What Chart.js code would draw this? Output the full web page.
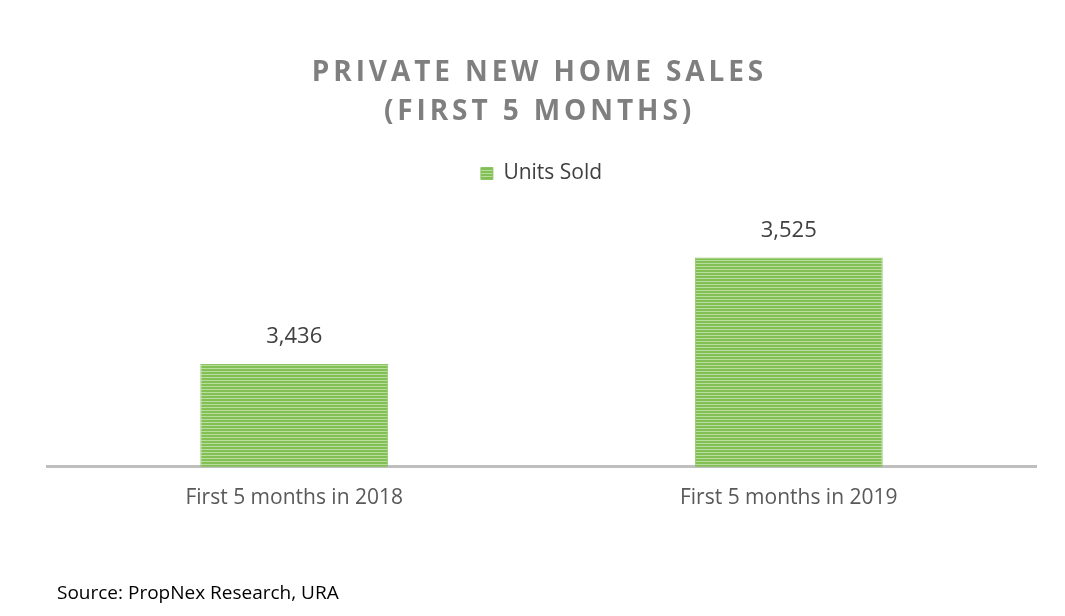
<!DOCTYPE html>
<html>
<head>
<meta charset="utf-8">
<script src="https://cdn.jsdelivr.net/npm/chart.js@4.4.1/dist/chart.umd.min.js"></script>
<style>
  html, body { margin: 0; padding: 0; background: #fff; }
  #wrap { position: relative; width: 1065px; height: 616px; overflow: hidden; }
  #salesChart { position: absolute; left: 0; top: 0; }
  .title {
    position: absolute; left: 0; top: 51px; width: 1065px; padding-left: 14px; box-sizing: border-box;
    text-align: center; font-family: "Open Sans", sans-serif; font-weight: 700;
    font-size: 28px; line-height: 39px; letter-spacing: 3.9px; color: #7f7f7f;
  }
  .source {
    position: absolute; left: 57px; top: 579px;
    font-family: "Open Sans", sans-serif; font-size: 19px; line-height: 26px; color: #000;
  }
</style>
</head>
<body>
<div id="wrap">
  <canvas id="salesChart" width="1065" height="616"></canvas>
  <div class="title">PRIVATE NEW HOME SALES<br>(FIRST 5 MONTHS)</div>
  <div class="source">Source: PropNex Research, URA</div>
</div>
<script>
const categories = ["First 5 months in 2018", "First 5 months in 2019"];
const unitsSold = [3436, 3525];
const seriesName = "Units Sold";

// striped green fill like the Excel pattern
function stripes() {
  const c = document.createElement("canvas");
  c.width = 4;
  c.height = 3;
  const g = c.getContext("2d");
  g.fillStyle = "#b9dd9c";
  g.fillRect(0, 0, 4, 3);
  g.fillStyle = "#82c055";
  g.fillRect(0, 0, 4, 2);
  return g.createPattern(c, "repeat");
}

const valueLabels = {
  id: "valueLabels",
  afterDatasetsDraw(chart) {
    const ctx = chart.ctx;
    ctx.save();
    ctx.font = "22px 'Open Sans', sans-serif";
    ctx.fillStyle = "#404040";
    ctx.textAlign = "center";
    ctx.textBaseline = "middle";
    chart.getDatasetMeta(0).data.forEach((bar, i) => {
      ctx.fillText(unitsSold[i].toLocaleString("en-US"), bar.x, bar.y - 27);
    });
    ctx.restore();
  }
};

const salesChart = document.getElementById("salesChart");
const fill = stripes();

new Chart(salesChart, {
  type: "bar",
  data: {
    labels: categories,
    datasets: [
      {
        label: seriesName,
        data: unitsSold,
        backgroundColor: fill,
        borderColor: "#8cc462",
        borderWidth: 1,
        barPercentage: 0.38,
        categoryPercentage: 1,
      },
    ],
  },
  options: {
    responsive: false,
    animation: false,
    devicePixelRatio: 1,
    layout: { padding: { top: 153, left: 47, right: 29, bottom: 86 } },
    plugins: {
      title: { display: false },
      tooltip: { enabled: false },
      legend: {
        position: "top",
        labels: {
          boxWidth: 12,
          boxHeight: 12,
          color: "#404040",
          font: { family: "'Open Sans', sans-serif", size: 21 },
        },
      },
    },
    scales: {
      y: { display: false, min: 3350, max: 3578 },
      x: {
        grid: { display: false, drawTicks: false },
        border: { display: true, color: "#bfbfbf", width: 3 },
        ticks: {
          color: "#595959",
          padding: 19,
          font: { family: "'Open Sans', sans-serif", size: 21 },
        },
      },
    },
  },
  plugins: [valueLabels],
});
</script>
</body>
</html>
